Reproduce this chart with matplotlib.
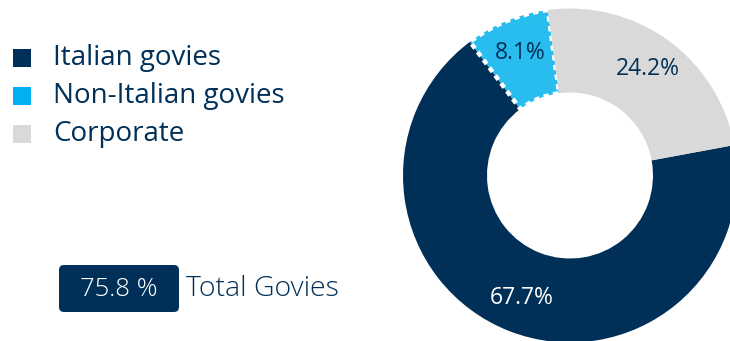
#!/usr/bin/env python3
"""
Donut chart of the govies / corporate split, with a legend and a total box.
"""

import matplotlib.pyplot as plt
from matplotlib.patches import FancyBboxPatch

categories = ['Italian govies', 'Non-Italian govies', 'Corporate']
shares = [67.7, 8.1, 24.2]
total_label = '75.8 %'
total_text = 'Total Govies'

navy = '#003057'
colors = [navy, '#29BDEF', '#D9D9D9']
legend_colors = [navy, '#00B0F0', '#D9D9D9']
label_colors = ['white', navy, navy]

plt.rcParams['font.family'] = ['Open Sans', 'DejaVu Sans']

fig = plt.figure(figsize=(7.3, 3.41), dpi=100)
ax = fig.add_axes([0, 0, 1, 1])

# donut, drawn in pixel-like data coordinates
wedges, texts, autotexts = ax.pie(
    shares, colors=colors, startangle=10.5, counterclock=False,
    radius=167, center=(570, 165.5), autopct='%1.1f%%', pctdistance=0.79,
    wedgeprops=dict(width=84, linewidth=0), textprops=dict(fontsize=16.5))
for t, c in zip(autotexts, label_colors):
    t.set_color(c)
wedges[1].set_edgecolor('white')
wedges[1].set_linewidth(3.2)
wedges[1].set_linestyle((0, (1.2, 1.0)))

ax.set_xlim(0, 730)
ax.set_ylim(0, 341)
ax.set_aspect('equal')
ax.axis('off')

# legend
for i, (name, c) in enumerate(zip(categories, legend_colors)):
    y = 341 - (58 + i * 38)
    ax.add_patch(plt.Rectangle((13, y - 9), 18, 18, color=c, lw=0))
    ax.text(53, y, name, fontsize=20, color=navy, va='center', ha='left')

# total govies box
ax.add_patch(FancyBboxPatch((59, 341 - 312), 120, 47,
                            boxstyle='round,pad=0,rounding_size=5',
                            facecolor=navy, edgecolor='none'))
ax.text(119, 341 - 289, total_label, fontsize=18.5, color='white',
        fontweight='light', ha='center', va='center')
ax.text(186, 341 - 289, total_text, fontsize=20.5, color=navy,
        fontweight='light', ha='left', va='center')

fig.savefig('out.png', dpi=100)
